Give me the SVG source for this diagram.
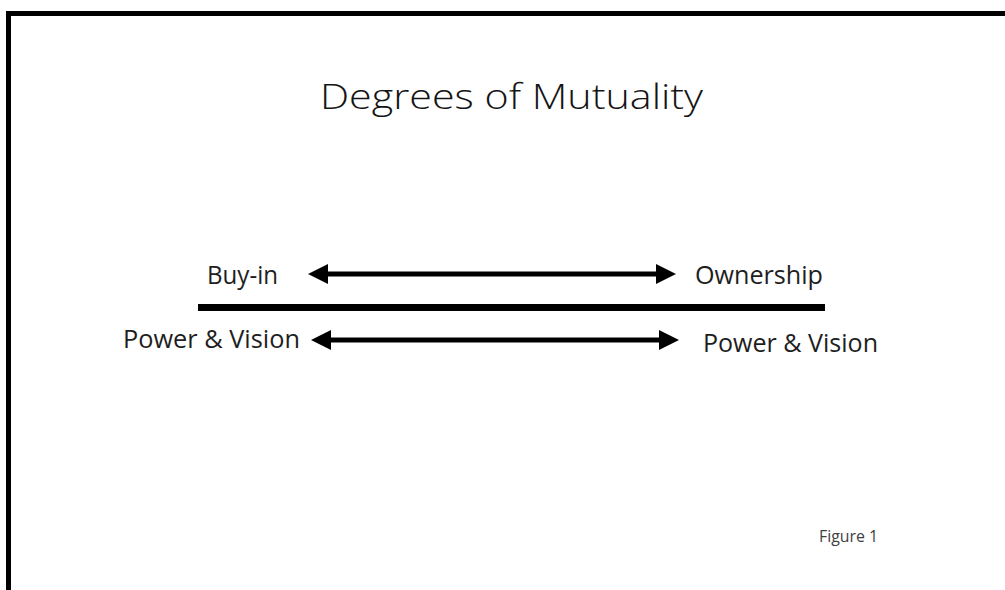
<svg xmlns="http://www.w3.org/2000/svg" width="1005" height="590" viewBox="0 0 1005 590">
  <defs>
    <style>
      .t { font-family: "Open Sans", "Noto Sans", "Liberation Sans", sans-serif; fill: #1e1e1e; }
      .title { font-size: 34px; font-weight: 300; fill: #141414; }
      .lbl { font-size: 25px; }
      .fig { font-size: 16px; fill: #404040; }
      .shaft { stroke: #000; stroke-width: 5; fill: none; }
    </style>
    <marker id="head" viewBox="0 0 20 20" refX="10" refY="10" markerWidth="21" markerHeight="20" markerUnits="userSpaceOnUse" orient="auto-start-reverse">
      <path d="M0,0 L20,10 L0,20 Z" fill="#000"/>
    </marker>
  </defs>
  <rect width="1005" height="590" fill="#fff"/>
  <path d="M8.5,600 V13.5 H1010" fill="none" stroke="#000" stroke-width="5"/>

  <g id="title">
    <text class="t title" x="320" y="109" textLength="383" lengthAdjust="spacingAndGlyphs">Degrees of Mutuality</text>
  </g>

  <g id="buy-in">
    <text class="t lbl" x="207" y="284" textLength="71" lengthAdjust="spacingAndGlyphs">Buy-in</text>
  </g>
  <g id="ownership">
    <text class="t lbl" x="695" y="284" textLength="128" lengthAdjust="spacingAndGlyphs">Ownership</text>
  </g>
  <g id="power-vision-left">
    <text class="t lbl" x="123" y="348" textLength="177" lengthAdjust="spacingAndGlyphs">Power &amp; Vision</text>
  </g>
  <g id="power-vision-right">
    <text class="t lbl" x="703" y="352" textLength="175" lengthAdjust="spacingAndGlyphs">Power &amp; Vision</text>
  </g>

  <g id="divider">
    <rect x="198" y="304" width="627" height="7" fill="#000"/>
  </g>

  <g id="connectors">
    <line class="shaft" x1="318" y1="274" x2="666" y2="274" marker-start="url(#head)" marker-end="url(#head)"/>
    <line class="shaft" x1="321" y1="340" x2="669" y2="340" marker-start="url(#head)" marker-end="url(#head)"/>
  </g>

  <g id="figure-label">
    <text class="t fig" x="819" y="542" textLength="59" lengthAdjust="spacingAndGlyphs">Figure 1</text>
  </g>
</svg>
